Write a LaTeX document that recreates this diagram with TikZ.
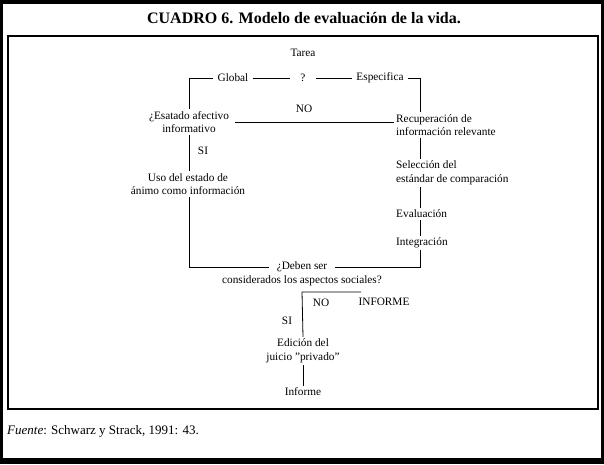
\documentclass[tikz,border=0pt]{standalone}
\usepackage{fontspec}
\setmainfont{Liberation Serif}
\usepackage{tikz}
\usetikzlibrary{positioning}

\begin{document}
\begin{tikzpicture}
            [x=1pt, y=-1pt,
            every node/.style={font=\fontsize{11.3}{13.5}\selectfont, align=center, inner sep=2pt},
            paso/.style={anchor=west, align=left},
            rama/.style={inner xsep=4pt},
            linea/.style={line width=0.8pt},
            marco/.style={line width=1.3pt}]

            \useasboundingbox (0,0) rectangle (604,464);
            \fill[black] (0,0) rectangle (604,464);
            \fill[white] (3,4) rectangle (601,458);
            \draw[marco] (8,36) rectangle (598,409);

            \node[font=\fontsize{16}{19}\selectfont\bfseries] (titulo) at (304,18) {CUADRO 6. Modelo de evaluación de la vida.};

            \node (tarea) at (303,53) {Tarea};
            \node[rama] (global) at (233,78) {Global};
            \node[inner xsep=10pt] (pregunta) at (303,78) {?};
            \node[rama] (especifica) at (380,78) {Especifica};
            \coordinate (esqizq) at (189,78);
            \coordinate (esqder) at (420,78);

            \node[inner xsep=6pt] (afectivo) at (189,122) {¿Esatado afectivo\\informativo};
            \node (no) at (304,109) {NO};
            \node[paso] (recuperacion) at (394,125) {Recuperación de\\información relevante};
            \node (si) at (203,151) {SI};
            \node (uso) at (188,184) {Uso del estado de\\ánimo como información};
            \node[paso] (seleccion) at (394,173) {Selección del\\estándar de comparación};
            \node[paso] (evaluacion) at (394,214) {Evaluación};
            \node[paso] (integracion) at (394,243) {Integración};

            \node[inner xsep=8pt] (deben) at (302,267) {¿Deben ser};
            \node (sociales) at (302,281) {considerados los aspectos sociales?};
            \coordinate (bifurca) at (302,292);
            \coordinate (bifurcafin) at (361,292);
            \node (nosocial) at (321,303) {NO};
            \node (informar) at (384,302) {INFORME};
            \node (sisocial) at (287,321) {SI};
            \node (edicion) at (303,351) {Edición del\\juicio "privado"};
            \node (informe) at (303,392) {Informe};

            \node[anchor=west, font=\fontsize{13}{15}\selectfont] (fuente) at (5,431) {\textit{Fuente}: Schwarz y Strack, 1991: 43.};

            \draw[linea] (global.west) -- (esqizq) -- (afectivo.north -| esqizq);
            \draw[linea] (global.east) -- (pregunta.west);
            \draw[linea] (pregunta.east) -- (especifica.west);
            \draw[linea] (especifica.east) -- (esqder) -- (esqder |- recuperacion.north);
            \draw[linea] (afectivo.east) -- (afectivo.east -| recuperacion.west);
            \draw[linea] (afectivo.south) -- (afectivo.south |- uso.north);
            \draw[linea] (esqder |- recuperacion.south) -- (esqder |- seleccion.north);
            \draw[linea] (esqder |- seleccion.south) -- (esqder |- evaluacion.north);
            \draw[linea] (esqder |- evaluacion.south) -- (esqder |- integracion.north);
            \draw[linea] (esqder |- integracion.south) -- (esqder |- deben.east) -- (deben.east);
            \draw[linea] (afectivo.south |- uso.south) -- (afectivo.south |- deben.west) -- (deben.west);
            \draw[linea] (bifurcafin) -- (bifurca) -- (edicion.north);
            \draw[linea] (edicion.south) -- (informe.north);
        \end{tikzpicture}
\end{document}
